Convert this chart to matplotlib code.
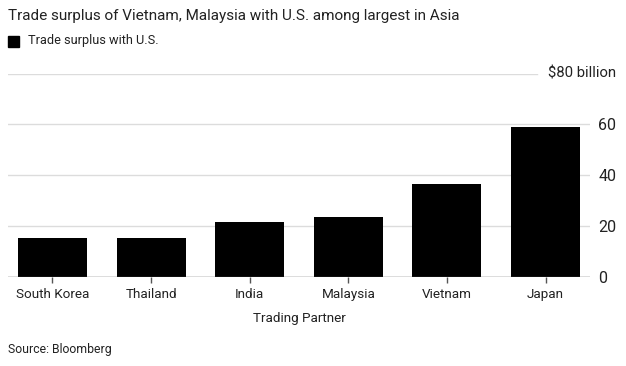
import matplotlib.pyplot as plt
import matplotlib.patches as mpatches

plt.rcParams["font.family"] = ["Roboto", "DejaVu Sans"]

partners = ["South Korea", "Thailand", "India", "Malaysia", "Vietnam", "Japan"]
surplus = [15.3, 15.3, 21.3, 23.4, 36.4, 59.1]
yticks = [0, 20, 40, 60, 80]
ytick_labels = ["0", "20", "40", "60", ""]

fig = plt.figure(figsize=(6.26, 3.66), dpi=100)
ax = fig.add_axes([0.0128, 0.2445, 0.9297, 0.5546])

x = range(len(partners))
ax.bar(x, surplus, width=0.7, color="black", zorder=3)

# grid lines, top one stops short of the unit label
for v in yticks[1:-1]:
    ax.axhline(v, color="#dcdcdc", linewidth=1, zorder=1)
ax.axhline(yticks[-1], xmax=0.909, color="#dcdcdc", linewidth=1, zorder=1)
ax.axhline(0, color="#555555", linewidth=1, zorder=4)

ax.set_xlim(-0.45, 5.45)
ax.set_ylim(0, 80)
ax.set_xticks(list(x))
ax.set_xticklabels(partners, fontsize=9.7, color="#222222")
ax.tick_params(axis="x", length=4, width=1, color="#555555", pad=4)
ax.yaxis.tick_right()
ax.set_yticks(yticks)
ax.set_yticklabels(ytick_labels, fontsize=11.5, color="#222222")
ax.tick_params(axis="y", length=0, pad=6)
for s in ax.spines.values():
    s.set_visible(False)
ax.set_xlabel("Trading Partner", fontsize=9.7, color="#222222", labelpad=8)

ax.text(0.9285, 80, "$80 billion", transform=ax.get_yaxis_transform(),
        ha="left", va="center", fontsize=10.7, color="#222222")

fig.text(0.0128, 0.955, "Trade surplus of Vietnam, Malaysia with U.S. among largest in Asia",
         fontsize=11, color="#222222", ha="left", va="center")
fig.patches.append(mpatches.Rectangle((0.0128, 0.872), 0.0176, 0.031,
                                      transform=fig.transFigure, color="black"))
fig.text(0.045, 0.888, "Trade surplus with U.S.", fontsize=9.2, color="#222222",
         ha="left", va="center")
fig.text(0.0128, 0.046, "Source: Bloomberg", fontsize=8.8, color="#222222",
         ha="left", va="center")

fig.savefig("out.png", dpi=100)
